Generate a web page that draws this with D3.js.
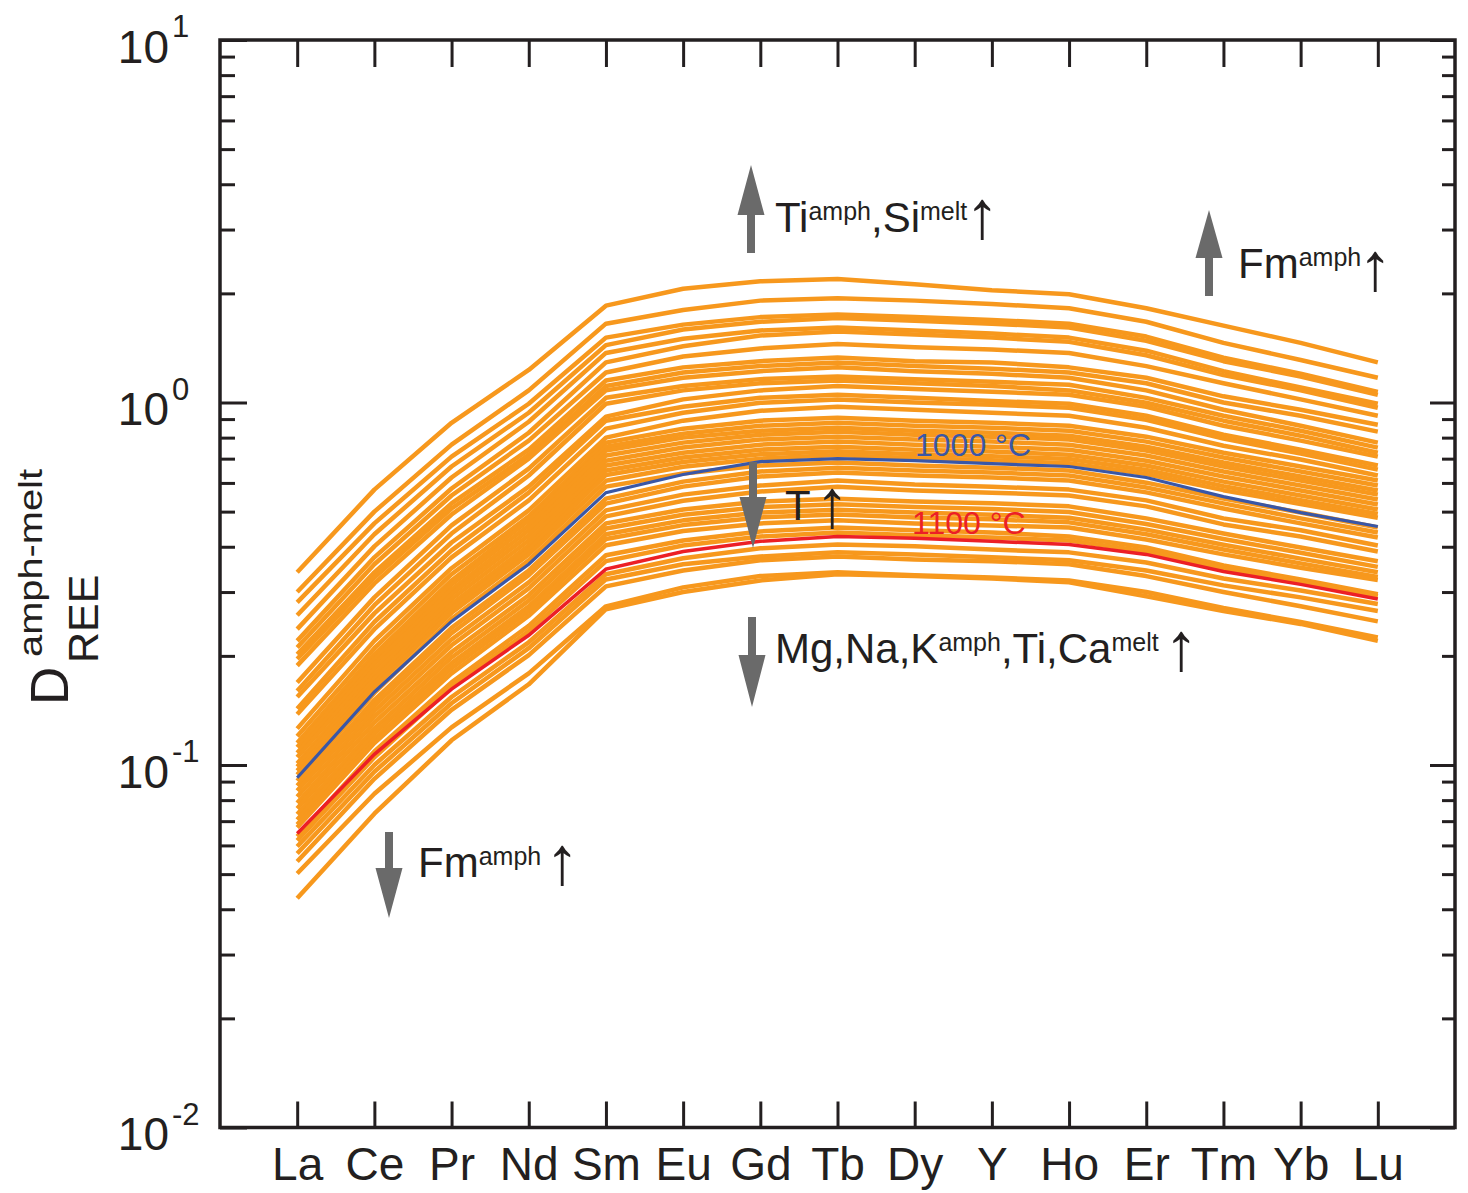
<!DOCTYPE html>
<html><head><meta charset="utf-8">
<script src="https://cdn.jsdelivr.net/npm/d3@7"></script>
<style>body{margin:0;background:#fff}svg{display:block}text{font-family:"Liberation Sans",Arial,Helvetica,sans-serif}</style>
</head><body>
<svg id="chart" width="1468" height="1193"></svg>
<script>
const elements = ["La","Ce","Pr","Nd","Sm","Eu","Gd","Tb","Dy","Y","Ho","Er","Tm","Yb","Lu"];
const yTickValues = [0.01, 0.1, 1, 10];
const yTickExponents = ["-2", "-1", "0", "1"];

// Partition coefficients D(amph-melt) for the modelled amphibole compositions
const orangeSeries = [
  [0.340,0.575,0.879,1.23,1.85,2.06,2.16,2.19,2.12,2.04,1.99,1.82,1.63,1.46,1.29],
  [0.300,0.500,0.765,1.08,1.65,1.80,1.91,1.94,1.91,1.87,1.82,1.67,1.46,1.31,1.17],
  [0.281,0.464,0.709,0.992,1.51,1.64,1.72,1.75,1.72,1.69,1.65,1.52,1.33,1.20,1.07],
  [0.259,0.433,0.666,0.937,1.44,1.59,1.67,1.71,1.68,1.65,1.61,1.48,1.30,1.18,1.05],
  [0.237,0.401,0.621,0.885,1.37,1.50,1.58,1.61,1.58,1.55,1.51,1.39,1.22,1.10,0.992],
  [0.220,0.374,0.579,0.825,1.29,1.43,1.53,1.57,1.54,1.51,1.47,1.35,1.19,1.08,0.967],
  [0.211,0.358,0.554,0.785,1.21,1.34,1.41,1.45,1.42,1.40,1.37,1.26,1.13,1.02,0.919],
  [0.202,0.340,0.527,0.741,1.15,1.25,1.30,1.33,1.30,1.29,1.25,1.17,1.04,0.955,0.868],
  [0.196,0.329,0.510,0.718,1.11,1.21,1.26,1.29,1.26,1.24,1.21,1.13,1.00,0.919,0.831],
  [0.188,0.317,0.491,0.700,1.08,1.17,1.22,1.25,1.22,1.20,1.17,1.08,0.955,0.863,0.775],
  [0.169,0.290,0.458,0.657,1.03,1.11,1.16,1.18,1.16,1.14,1.12,1.03,0.919,0.836,0.751],
  [0.160,0.276,0.435,0.629,0.992,1.08,1.13,1.15,1.13,1.11,1.08,0.998,0.891,0.810,0.727],
  [0.154,0.262,0.411,0.586,0.914,1.02,1.08,1.11,1.09,1.07,1.05,0.973,0.863,0.785,0.709],
  [0.143,0.248,0.391,0.564,0.891,0.973,1.03,1.05,1.03,1.01,0.992,0.919,0.815,0.741,0.670],
  [0.138,0.237,0.374,0.537,0.847,0.937,0.998,1.02,1.00,0.986,0.967,0.896,0.795,0.723,0.653],
  [0.126,0.220,0.349,0.504,0.800,0.891,0.949,0.973,0.955,0.937,0.919,0.852,0.760,0.696,0.629],
  [0.120,0.210,0.336,0.485,0.775,0.847,0.891,0.908,0.891,0.879,0.863,0.805,0.727,0.666,0.609],
  [0.115,0.202,0.323,0.473,0.755,0.820,0.863,0.879,0.863,0.852,0.836,0.780,0.705,0.645,0.590],
  [0.112,0.196,0.315,0.458,0.737,0.800,0.836,0.852,0.836,0.825,0.810,0.755,0.683,0.625,0.572],
  [0.108,0.190,0.305,0.444,0.714,0.775,0.815,0.831,0.815,0.805,0.790,0.737,0.666,0.609,0.557],
  [0.105,0.184,0.296,0.430,0.691,0.751,0.790,0.805,0.790,0.780,0.765,0.714,0.645,0.590,0.540],
  [0.101,0.178,0.287,0.416,0.670,0.727,0.765,0.780,0.765,0.755,0.741,0.691,0.625,0.572,0.523],
  [0.0989,0.173,0.278,0.403,0.649,0.705,0.741,0.755,0.741,0.732,0.718,0.670,0.605,0.554,0.507],
  [0.0964,0.168,0.270,0.392,0.631,0.685,0.720,0.734,0.720,0.711,0.698,0.651,0.588,0.538,0.493],
  [0.0940,0.164,0.263,0.381,0.608,0.665,0.700,0.716,0.702,0.693,0.680,0.635,0.573,0.525,0.481],
  [0.0904,0.158,0.253,0.367,0.586,0.637,0.670,0.683,0.670,0.661,0.649,0.601,0.543,0.497,0.452],
  [0.0876,0.151,0.239,0.344,0.543,0.605,0.645,0.661,0.649,0.641,0.629,0.583,0.527,0.479,0.438],
  [0.0849,0.146,0.231,0.334,0.526,0.586,0.625,0.641,0.629,0.621,0.609,0.565,0.510,0.464,0.424],
  [0.0817,0.141,0.222,0.319,0.504,0.557,0.590,0.609,0.594,0.586,0.575,0.537,0.479,0.444,0.403],
  [0.0786,0.136,0.214,0.307,0.485,0.536,0.568,0.586,0.572,0.564,0.554,0.517,0.461,0.427,0.388],
  [0.0758,0.131,0.205,0.294,0.464,0.507,0.533,0.543,0.533,0.527,0.517,0.479,0.435,0.398,0.365],
  [0.0731,0.126,0.198,0.284,0.449,0.490,0.515,0.524,0.515,0.508,0.499,0.462,0.420,0.385,0.352],
  [0.0706,0.122,0.191,0.274,0.433,0.473,0.497,0.506,0.497,0.490,0.481,0.446,0.405,0.371,0.340],
  [0.0685,0.118,0.185,0.266,0.420,0.459,0.482,0.491,0.482,0.476,0.467,0.433,0.393,0.360,0.330],
  [0.0672,0.115,0.179,0.258,0.404,0.442,0.464,0.473,0.464,0.458,0.452,0.419,0.381,0.350,0.324],
  [0.0635,0.109,0.169,0.242,0.379,0.416,0.441,0.452,0.444,0.438,0.427,0.398,0.355,0.325,0.296],
  [0.0619,0.105,0.164,0.234,0.365,0.403,0.427,0.438,0.430,0.424,0.416,0.388,0.349,0.321,0.292],
  [0.0596,0.100,0.154,0.218,0.336,0.372,0.396,0.406,0.401,0.393,0.386,0.362,0.327,0.303,0.278],
  [0.0570,0.0958,0.148,0.210,0.325,0.358,0.376,0.386,0.381,0.374,0.367,0.344,0.313,0.290,0.266],
  [0.0542,0.0916,0.142,0.201,0.311,0.344,0.367,0.376,0.369,0.365,0.358,0.332,0.300,0.274,0.249],
  [0.0502,0.0833,0.127,0.179,0.274,0.309,0.332,0.340,0.334,0.329,0.323,0.300,0.271,0.248,0.225],
  [0.0429,0.0734,0.117,0.167,0.269,0.300,0.323,0.336,0.332,0.327,0.319,0.292,0.266,0.245,0.220]
];
const series1000C = [0.0922,0.159,0.249,0.358,0.564,0.633,0.687,0.700,0.691,0.678,0.666,0.621,0.550,0.497,0.455];
const series1100C = [0.0647,0.107,0.162,0.228,0.347,0.388,0.414,0.427,0.422,0.414,0.406,0.381,0.342,0.315,0.287];

const svg = d3.select("#chart");
const plot = {left: 220, right: 1455, top: 40, bottom: 1127.5};
const INK = "#231f20", ORANGE = "#F7981D", BLUE = "#3A57A6", RED = "#EC1F26", GREY = "#6a6a6a";

const x = d3.scalePoint().domain(elements).range([plot.left, plot.right]).padding(1);
const y = d3.scaleLog().domain([0.01, 10]).range([plot.bottom, plot.top]);
const line = d3.line().x((d, i) => x(elements[i])).y(d => y(d));

// data lines
svg.append("g").selectAll("path").data(orangeSeries).join("path")
  .attr("d", line).attr("fill", "none").attr("stroke", ORANGE)
  .attr("stroke-width", 4.5).attr("stroke-linejoin", "round");
svg.append("path").attr("d", line(series1000C)).attr("fill", "none").attr("stroke", BLUE).attr("stroke-width", 3.2);
svg.append("path").attr("d", line(series1100C)).attr("fill", "none").attr("stroke", RED).attr("stroke-width", 3.5);

// axes
const minorTicks = [];
[0.01, 0.1, 1].forEach(d => { for (let k = 2; k <= 9; k++) minorTicks.push(+(k * d).toPrecision(2)); });
function styleAxis(g) {
  g.select(".domain").remove();
  g.selectAll(".tick line").attr("stroke", INK).attr("stroke-width", 3);
}
svg.append("g").attr("transform", `translate(${plot.left},0)`)
  .call(d3.axisLeft(y).tickValues(yTickValues).tickSizeInner(-27).tickSizeOuter(0).tickFormat(() => "")).call(styleAxis);
svg.append("g").attr("transform", `translate(${plot.left},0)`)
  .call(d3.axisLeft(y).tickValues(minorTicks).tickSizeInner(-15).tickSizeOuter(0).tickFormat(() => "")).call(styleAxis);
svg.append("g").attr("transform", `translate(${plot.right},0)`)
  .call(d3.axisRight(y).tickValues(yTickValues).tickSizeInner(-25).tickSizeOuter(0).tickFormat(() => "")).call(styleAxis);
svg.append("g").attr("transform", `translate(${plot.right},0)`)
  .call(d3.axisRight(y).tickValues(minorTicks).tickSizeInner(-13).tickSizeOuter(0).tickFormat(() => "")).call(styleAxis);
const bottomAxis = svg.append("g").attr("transform", `translate(0,${plot.bottom})`)
  .call(d3.axisBottom(x).tickSizeInner(-26).tickSizeOuter(0).tickPadding(20)).call(styleAxis);
bottomAxis.selectAll(".tick text").attr("font-size", 46).attr("fill", INK)
  .attr("font-family", "'Liberation Sans',Arial,sans-serif");
svg.append("g").attr("transform", `translate(0,${plot.top})`)
  .call(d3.axisTop(x).tickSizeInner(-27).tickSizeOuter(0).tickFormat(() => "")).call(styleAxis);

// frame
svg.append("rect").attr("x", plot.left).attr("y", plot.top)
  .attr("width", plot.right - plot.left).attr("height", plot.bottom - plot.top)
  .attr("fill", "none").attr("stroke", INK).attr("stroke-width", 3.5);

// y tick labels 10^n
const yLab = svg.append("g").attr("fill", INK);
yTickValues.forEach((v, i) => {
  yLab.append("text").attr("x", 169).attr("y", y(v) + 22.5).attr("text-anchor", "end")
    .attr("font-size", 46).text("10");
  yLab.append("text").attr("x", 172).attr("y", y(v) - 3).attr("text-anchor", "start")
    .attr("font-size", 31).text(yTickExponents[i]);
});

// y axis title
const yt = svg.append("g").attr("transform", "translate(68,702) rotate(-90)").attr("fill", INK);
yt.append("text").attr("x", -3).attr("y", 0).attr("font-size", 53).text("D");
yt.append("text").attr("x", 45).attr("y", -26).attr("font-size", 34)
  .attr("textLength", 188).attr("lengthAdjust", "spacingAndGlyphs").text("amph-melt");
yt.append("text").attr("x", 39).attr("y", 30).attr("font-size", 43).text("REE");

// grey arrows
function greyArrow(cx, yTail, yBase, yTip) {
  const sw = 4, hw = 13.5;
  const p = d3.path();
  p.moveTo(cx - sw, yTail); p.lineTo(cx - sw, yBase); p.lineTo(cx - hw, yBase);
  p.lineTo(cx, yTip); p.lineTo(cx + hw, yBase); p.lineTo(cx + sw, yBase);
  p.lineTo(cx + sw, yTail); p.closePath();
  svg.append("path").attr("d", p.toString()).attr("fill", GREY);
}
greyArrow(751, 253, 215, 165);
greyArrow(1209, 296, 258, 210);
greyArrow(753, 462, 497, 548);
greyArrow(752, 617, 655, 707);
greyArrow(389, 832, 868, 918);

// annotation text with superscripts
function richText(xp, yp, segs, size, color) {
  const t = svg.append("text").attr("x", xp).attr("y", yp).attr("font-size", size).attr("fill", color || INK);
  let raised = false;
  segs.forEach(s => {
    const ts = t.append("tspan").text(s.t);
    if (s.sup && !raised) { ts.attr("font-size", 25).attr("dy", -12); raised = true; }
    else if (!s.sup && raised) { ts.attr("dy", 12); raised = false; }
    else if (s.sup) ts.attr("font-size", 25);
  });
  return t;
}
function upArrowText(cx, baseY) {
  svg.append("text").attr("x", cx).attr("y", baseY).attr("text-anchor", "middle")
    .attr("font-family", "'Noto Sans CJK SC','Noto Sans CJK JP',sans-serif")
    .attr("font-size", 68).attr("fill", INK).text("\u2191");
}
richText(775, 232, [{t: "Ti"}, {t: "amph", sup: true}, {t: ",Si"}, {t: "melt", sup: true}], 42);
upArrowText(982, 238);
richText(1238, 278, [{t: "Fm"}, {t: "amph", sup: true}], 42);
upArrowText(1375, 290);
richText(785, 520, [{t: "T"}], 42);
upArrowText(832, 527);
richText(775, 663, [{t: "Mg,Na,K"}, {t: "amph", sup: true}, {t: ",Ti,Ca"}, {t: "melt", sup: true}], 42);
upArrowText(1181, 670);
richText(418, 877, [{t: "Fm"}, {t: "amph", sup: true}], 42);
upArrowText(562, 884);

svg.append("text").attr("x", 915).attr("y", 456).attr("font-size", 32).attr("fill", BLUE).text("1000 \u00B0C");
svg.append("text").attr("x", 912).attr("y", 534).attr("font-size", 32).attr("fill", RED).text("1100 \u00B0C");
</script>
</body></html>
